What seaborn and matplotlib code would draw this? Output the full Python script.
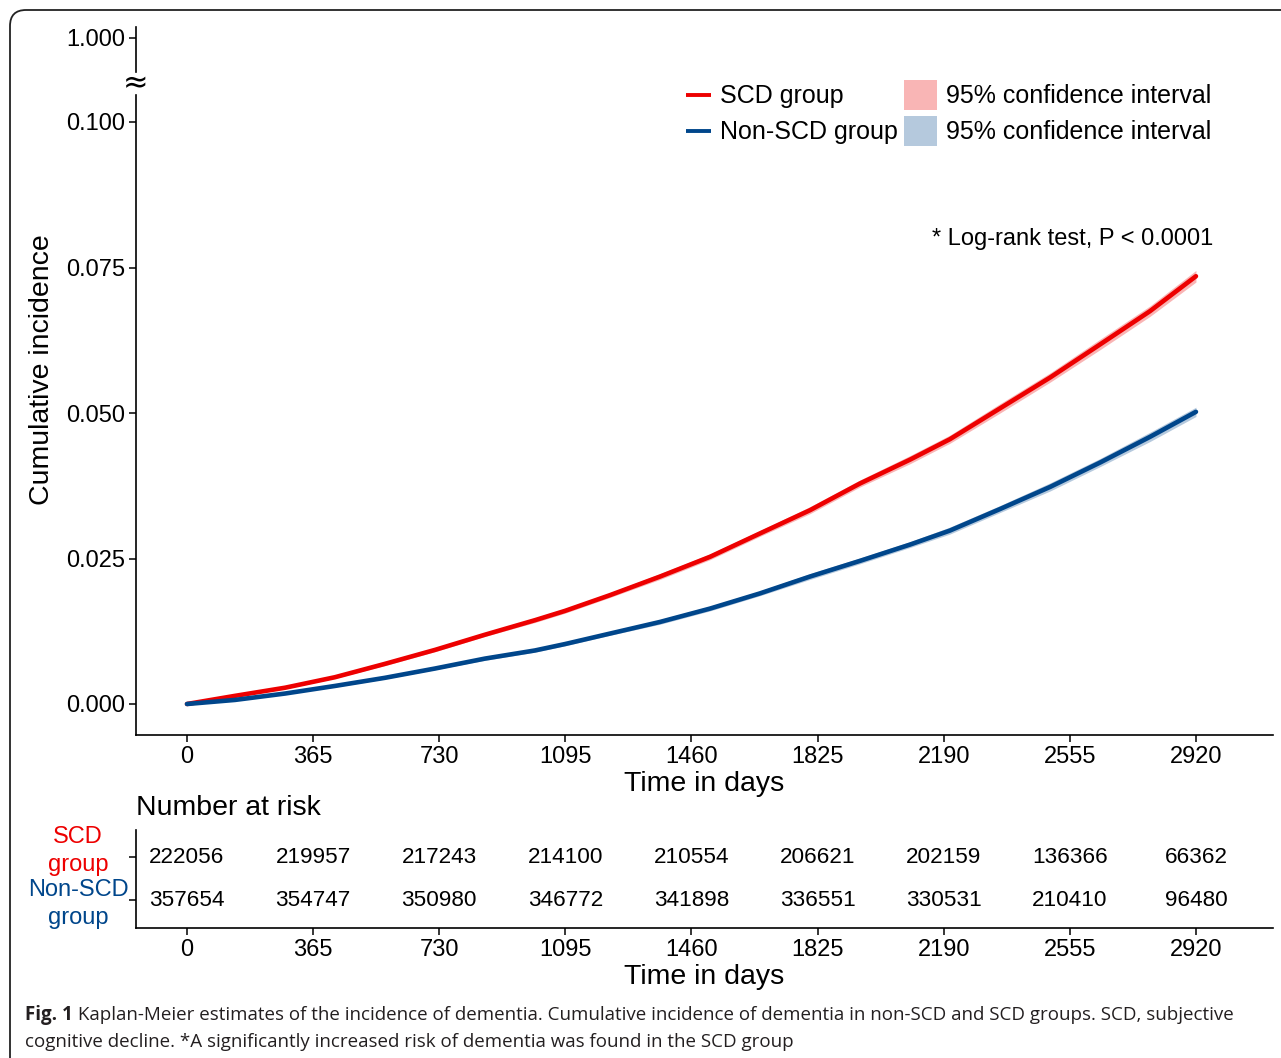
import numpy as np
import pandas as pd
import matplotlib
matplotlib.use("Agg")
import matplotlib.pyplot as plt
import matplotlib.transforms as mtransforms
import seaborn as sns
from matplotlib.patches import FancyBboxPatch, Patch
from matplotlib.lines import Line2D
from matplotlib.legend_handler import HandlerLine2D

# ---------------- data ----------------
days = [0, 139, 284, 428, 573, 718, 862, 1007, 1094, 1224, 1369, 1514, 1658,
        1803, 1948, 2093, 2208, 2353, 2498, 2643, 2787, 2920]
scd_inc = [0.0, 0.0014, 0.0028, 0.0046, 0.0069, 0.0093, 0.0119, 0.0144, 0.0160,
           0.0187, 0.0219, 0.0253, 0.0293, 0.0333, 0.0379, 0.0420, 0.0455, 0.0508,
           0.0561, 0.0618, 0.0675, 0.0735]
non_inc = [0.0, 0.0007, 0.0018, 0.0031, 0.0045, 0.0061, 0.0078, 0.0092, 0.0103,
           0.0121, 0.0141, 0.0164, 0.0190, 0.0219, 0.0246, 0.0274, 0.0298, 0.0335,
           0.0373, 0.0415, 0.0459, 0.0502]
scd_ci = [0.0, 0.0001, 0.0002, 0.0002, 0.0003, 0.0003, 0.0003, 0.0004, 0.0004,
          0.0004, 0.0005, 0.0005, 0.0005, 0.0006, 0.0006, 0.0007, 0.0007, 0.0008,
          0.0008, 0.0009, 0.0009, 0.0010]
non_ci = [0.0, 0.0001, 0.0001, 0.0002, 0.0002, 0.0002, 0.0003, 0.0003, 0.0003,
          0.0003, 0.0004, 0.0004, 0.0004, 0.0005, 0.0005, 0.0005, 0.0006, 0.0006,
          0.0007, 0.0007, 0.0008, 0.0008]

risk_times = [0, 365, 730, 1095, 1460, 1825, 2190, 2555, 2920]
scd_risk = [222056, 219957, 217243, 214100, 210554, 206621, 202159, 136366, 66362]
non_risk = [357654, 354747, 350980, 346772, 341898, 336551, 330531, 210410, 96480]

groups = ["SCD group", "Non-SCD group"]
colors = ["#ED0000", "#00468B"]
ci_label = "95% confidence interval"
y_ticks = [0.000, 0.025, 0.050, 0.075, 0.100]

caption_bold = "Fig. 1"
caption_1 = (" Kaplan-Meier estimates of the incidence of dementia. Cumulative incidence "
             "of dementia in non-SCD and SCD groups. SCD, subjective")
caption_2 = ("cognitive decline. *A significantly increased risk of dementia was found "
             "in the SCD group")

# ---------------- style ----------------
sns.set_theme(style="white")
plt.rcParams["font.family"] = ["Liberation Sans", "DejaVu Sans"]
plt.rcParams["text.color"] = "black"
plt.rcParams["axes.labelcolor"] = "black"
plt.rcParams["xtick.color"] = "black"
plt.rcParams["ytick.color"] = "black"

W, H = 1281, 1058
fig = plt.figure(figsize=(W / 100, H / 100), dpi=100)


def rect(l, t, r, b):
    return [l / W, 1 - b / H, (r - l) / W, (b - t) / H]


# rounded frame (pixel coordinates, extends past right/bottom edges)
frame = FancyBboxPatch((10, -30), 1320, H - 10 + 30,
                       boxstyle="round,pad=0,rounding_size=16",
                       transform=mtransforms.IdentityTransform(),
                       fill=False, edgecolor="#222222", linewidth=1.3)
fig.patches.append(frame)

ax_top = fig.add_axes(rect(136, 27, 1273, 72))
ax = fig.add_axes(rect(136, 95, 1273, 735))
ax_risk = fig.add_axes(rect(136, 830, 1273, 928))

XL = (-147.6, 3143)
PPU = 5820.0  # pixels per unit of incidence

TICK_FS = 17
TITLE_FS = 20.5

# ---------------- main curves ----------------
df = pd.DataFrame({
    "days": days * 2,
    "inc": scd_inc + non_inc,
    "group": [groups[0]] * len(days) + [groups[1]] * len(days),
})
series = {groups[0]: (scd_inc, scd_ci), groups[1]: (non_inc, non_ci)}
for g, c in zip(groups, colors):
    v, ci = series[g]
    v = np.array(v); ci = np.array(ci)
    ax.fill_between(days, v - ci, v + ci, color=c, alpha=0.29, linewidth=0)
sns.lineplot(data=df, x="days", y="inc", hue="group", palette=dict(zip(groups, colors)),
             ax=ax, linewidth=3.3, legend=False, errorbar=None)

ax.set_xlim(*XL)
ax.set_ylim(-31 / PPU, 609 / PPU)
ax.set_xticks(risk_times)
ax.set_yticks(y_ticks, labels=[f"{t:.3f}" for t in y_ticks])
ax.set_xlabel("Time in days", fontsize=TITLE_FS, labelpad=2)
ax.set_ylabel("")
for s in ["top", "right"]:
    ax.spines[s].set_visible(False)
for s in ["left", "bottom"]:
    ax.spines[s].set_linewidth(1.2)
    ax.spines[s].set_color("black")
ax.tick_params(direction="out", length=5, width=1.1, labelsize=TICK_FS, pad=3,
               colors="black", left=True, bottom=True)

# top broken-axis panel
ax_top.set_xlim(*XL)
ax_top.set_ylim(1 - 34 / PPU, 1 + 11 / PPU)
ax_top.set_yticks([1.0], labels=["1.000"])
ax_top.set_xticks([])
for s in ["top", "right", "bottom"]:
    ax_top.spines[s].set_visible(False)
ax_top.spines["left"].set_linewidth(1.2)
ax_top.spines["left"].set_color("black")
ax_top.tick_params(direction="out", length=5, width=1.1, labelsize=TICK_FS, pad=3,
                   colors="black", left=True)
fig.text(136 / W, 1 - 84 / H, "≈", ha="center", va="center", fontsize=22,
         family=["DejaVu Sans"])

fig.text(42 / W, 1 - 370 / H, "Cumulative incidence", rotation=90,
         ha="center", va="center", fontsize=TITLE_FS)


# legend: short line keys, square fill keys
class ShortLineHandler(HandlerLine2D):
    def create_artists(self, legend, orig_handle, xdescent, ydescent, width,
                       height, fontsize, trans):
        y = height / 2 - ydescent
        line = Line2D([width * 0.25 - xdescent, width - xdescent], [y, y],
                      color=orig_handle.get_color(), lw=orig_handle.get_linewidth(),
                      solid_capstyle="butt")
        line.set_transform(trans)
        return [line]


handles = [Line2D([], [], color=colors[0], lw=2.8),
           Line2D([], [], color=colors[1], lw=2.8),
           Patch(facecolor=colors[0], alpha=0.29, edgecolor="none"),
           Patch(facecolor=colors[1], alpha=0.29, edgecolor="none")]
labels = [groups[0], groups[1], ci_label, ci_label]
fig.legend(handles, labels, ncol=2, loc="upper left",
           bbox_to_anchor=(678 / W, 1 - 80 / H), frameon=False, fontsize=18,
           handlelength=1.3, handleheight=1.45, handletextpad=0.36,
           columnspacing=0.28, labelspacing=0.26, borderpad=0, borderaxespad=0,
           handler_map={Line2D: ShortLineHandler()})

fig.text(1213 / W, 1 - 239 / H, "* Log-rank test, P < 0.0001", ha="right",
         va="center", fontsize=17)

# ---------------- risk table ----------------
ax_risk.set_xlim(*XL)
ax_risk.set_ylim(-0.65, 1.63)
for t, n in zip(risk_times, scd_risk):
    ax_risk.text(t, 1, str(n), ha="center", va="center", fontsize=16.2)
for t, n in zip(risk_times, non_risk):
    ax_risk.text(t, 0, str(n), ha="center", va="center", fontsize=16.2)
ax_risk.set_xticks(risk_times)
ax_risk.set_yticks([0, 1], labels=["", ""])
for s in ["top", "right"]:
    ax_risk.spines[s].set_visible(False)
for s in ["left", "bottom"]:
    ax_risk.spines[s].set_linewidth(1.2)
    ax_risk.spines[s].set_color("black")
ax_risk.tick_params(direction="out", length=5, width=1.1, labelsize=TICK_FS, pad=3,
                    colors="black", left=True, bottom=True)
ax_risk.set_xlabel("Time in days", fontsize=TITLE_FS, labelpad=2)

lab_tr = mtransforms.blended_transform_factory(fig.transFigure, ax_risk.transData)
fig.text(78 / W, 1.14, "SCD\ngroup", transform=lab_tr, ha="center", va="center",
         color=colors[0], fontsize=17, linespacing=1.38)
fig.text(78 / W, -0.09, "Non-SCD\ngroup", transform=lab_tr, ha="center", va="center",
         color=colors[1], fontsize=17, linespacing=1.38)

fig.text(136 / W, 1 - 808 / H, "Number at risk", ha="left", va="center", fontsize=20.5)

# ---------------- caption ----------------
cap_font = ["Open Sans", "DejaVu Sans"]
t_bold = fig.text(25 / W, 1 - 1015 / H, caption_bold, ha="left", va="center",
                  fontsize=13.5, fontweight="bold", family=cap_font, color="#231F20")
fig.canvas.draw()
plt.annotate(caption_1, xy=(1, 0.5), xycoords=t_bold, va="center", ha="left",
             fontsize=13.5, family=cap_font, color="#231F20", annotation_clip=False)
fig.text(25 / W, 1 - 1042 / H, caption_2, ha="left", va="center", fontsize=13.5,
         family=cap_font, color="#231F20")

fig.savefig("out.png", dpi=100)
